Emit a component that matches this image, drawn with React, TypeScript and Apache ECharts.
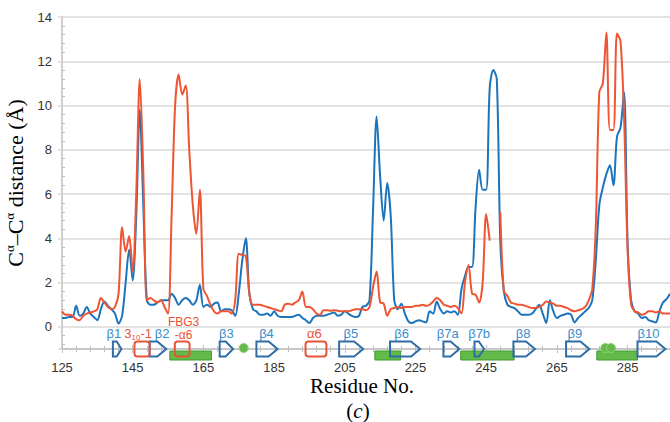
import React, { useEffect, useRef } from "react";
import * as echarts from "echarts";

const RES_START = 125;
const RES_END = 297;
const Y_MIN = -1;
const Y_MAX = 14;

// Cα–Cα distance per residue, 125..297
const blueDistance = [
  0.4, 0.4, 0.45, 0.45, 0.95, 0.5, 0.6, 0.9, 0.6, 0.45,
  0.3, 0.8, 1.15, 0.95, 0.8, 0.6, 0.15, 0.5, 2.0, 3.5,
  2.1, 5.0, 9.8, 5.5, 1.2, 1.0, 1.0, 1.1, 1.2, 1.2,
  1.2, 1.5, 1.3, 1.0, 1.2, 1.3, 1.2, 1.0, 1.2, 1.9,
  0.9, 1.0, 0.9, 1.05, 1.1, 0.7, 0.8, 0.8, 0.75, 0.5,
  1.5, 3.0, 4.0, 1.5, 0.8, 0.7, 0.55, 0.55, 0.6, 0.5,
  0.7, 0.5, 0.45, 0.45, 0.45, 0.45, 0.5, 0.55, 0.4, 0.3,
  0.17, 0.4, 0.5, 0.5, 0.5, 0.55, 0.6, 0.65, 0.5, 0.55,
  0.7, 0.6, 0.5, 0.45, 0.5, 0.9, 0.95, 1.2, 5.3, 9.5,
  6.8, 4.8, 6.5, 5.0, 1.2, 0.8, 1.05, 0.6, 0.25, 0.17,
  0.25, 0.3, 0.25, 0.2, 0.7, 0.6, 1.15, 0.8, 0.6, 0.7,
  0.65, 0.7, 0.55, 1.7, 2.3, 2.7, 2.7, 5.4, 7.1, 6.2,
  6.2, 10.8, 11.6, 11.2, 3.8, 1.6, 1.0, 0.9, 0.85, 0.7,
  0.55, 0.55, 0.55, 0.6, 0.8, 1.0, 0.6, 0.17, 1.2, 0.7,
  0.4, 0.5, 0.55, 0.6, 0.55, 0.2, 0.4, 0.55, 0.7, 0.85,
  1.2, 3.0, 5.5, 6.3, 6.9, 7.3, 6.4, 8.6, 9.0, 10.6,
  3.8, 1.2, 0.7, 0.6, 0.4, 0.45, 0.3, 0.25, 0.2, 0.7,
  1.1, 1.25, 1.5,
];

const redDistance = [
  0.7, 0.55, 0.55, 0.5, 0.35, 0.3, 0.5, 0.6, 0.65, 0.7,
  0.8, 1.3, 1.1, 0.9, 0.8, 0.9, 1.5, 4.5, 3.4, 4.1,
  2.5, 6.0, 11.2, 7.0, 1.2, 1.3, 1.2, 1.1, 1.2, 0.9,
  0.6, 5.0, 10.0, 11.4, 10.5, 10.9, 8.0, 5.5, 4.2, 6.2,
  1.7, 1.4, 1.0, 0.7, 0.6, 0.7, 0.7, 0.7, 0.6, 1.2,
  3.3, 3.25, 3.2, 1.5, 1.0, 1.0, 1.0, 0.95, 0.9, 0.85,
  0.8, 0.75, 0.7, 1.0, 1.05, 1.0, 1.1, 1.2, 1.6, 0.9,
  0.9, 0.8, 0.6, 0.55, 0.75, 0.75, 0.73, 0.75, 0.73, 0.7,
  0.7, 0.7, 0.75, 0.8, 0.8, 0.8, 0.75, 0.9, 1.8, 2.5,
  1.1, 1.05, 0.5, 0.8, 0.85, 0.9, 0.85, 0.9, 0.9, 0.9,
  0.95, 0.95, 1.0, 0.95, 1.0, 1.15, 1.3, 1.2, 1.0, 0.95,
  0.9, 0.95, 0.85, 0.6, 2.0, 2.8, 1.5, 1.45, 1.1, 2.0,
  5.1, 3.9, null, null, 5.2, 1.6, 1.4, 1.1, 1.05, 1.0,
  1.0, 0.95, 0.9, 0.85, 0.85, 0.9, 1.0, 1.15, 1.1, 1.05,
  0.95, 0.95, 0.9, 0.85, 0.75, 0.7, 0.75, 0.8, 0.9, 1.2,
  1.7, 4.5, 10.6, 11.0, 13.3, 8.9, 8.9, 13.25, 12.9, 9.5,
  3.5, 1.0, 0.7, 0.65, 0.55, 0.6, 0.7, 0.7, 0.65, 0.7,
  0.6, 0.6, 0.6,
];

const yTickValues = [0, 2, 4, 6, 8, 10, 12, 14];

// secondary-structure annotations (residue ranges)
const strandRanges = [
  [139.4, 141.8], [149.8, 154.5], [169.6, 173.4], [180, 186], [203.4, 210.2],
  [217.8, 226.3], [232.9, 237.4], [241.7, 244.4], [252.7, 258.8], [267.6, 274.2],
  [287.8, 295.7],
];
const strandLabels = ["β1", "β2", "β3", "β4", "β5", "β6", "β7a", "β7b", "β8", "β9", "β10"];
const strandLabelAt = [139.7, 153.3, 171.5, 182.85, 206.75, 221.05, 234.15, 243.0, 255.45, 270.1, 290.9];

const helixRanges = [[145.5, 149.8], [156.9, 161.1], [193.9, 199.8]];
const helixLabels = ["{n|3}{s|10}{n|-1}", "{m|FBG3}\n{m|-α6}", "α6"];
const helixLabelAt = [146.55, 159.4, 196.4];

const greenBars = [[155.5, 167.3], [213.5, 220.8], [237.8, 252.9], [276.3, 287.8]];
const greenDots = [176.4, 278.7, 280.3];

const BLUE = "#1C75BC";
const RED = "#EF5533";
const STRAND = "#2F6DA6";
const STRAND_TXT = "#3A8CCB";
const HELIX = "#E8533A";
const GREEN = "#63BA48";
const GREEN_EDGE = "#3E9C33";
const SANS = '"Liberation Sans", Arial, sans-serif';
const SERIF = '"Liberation Serif", "Times New Roman", serif';

const residues = blueDistance.map((_, i) => RES_START + i);

export default function App() {
  const ref = useRef<HTMLDivElement>(null);
  useEffect(() => {
    const chart = echarts.init(ref.current!, null, { renderer: "svg" });
    const gridBox = { left: 62, right: 0, top: 17, bottom: 73, containLabel: false, outerBoundsMode: "none" };
    const option: any = {
      animation: false,
      backgroundColor: "#ffffff",
      grid: [gridBox, { ...gridBox }],
      xAxis: [
        {
          type: "value",
          gridIndex: 0,
          min: RES_START,
          max: RES_END,
          interval: 20,
          axisLine: { show: true, onZero: false, lineStyle: { color: "#BFBFBF", width: 1.5 } },
          axisTick: { show: true, inside: false, length: 4, lineStyle: { color: "#BFBFBF", width: 1 } },
          minorTick: { show: true, splitNumber: 5, length: 3, lineStyle: { color: "#BFBFBF", width: 1 } },
          axisLabel: { show: true, showMaxLabel: false, margin: 12, color: "#333", fontSize: 13, fontFamily: SANS },
          splitLine: { show: false },
        },
        {
          type: "value",
          gridIndex: 1,
          min: RES_START,
          max: RES_END,
          interval: 20,
          axisLine: { show: false, onZero: false },
          axisTick: { show: true, inside: true, length: 4, lineStyle: { color: "#BFBFBF", width: 1 } },
          minorTick: { show: true, splitNumber: 5, length: 3, lineStyle: { color: "#BFBFBF", width: 1 } },
          axisLabel: { show: false },
          splitLine: { show: false },
        },
      ],
      yAxis: [
        {
          type: "value",
          gridIndex: 0,
          min: Y_MIN,
          max: Y_MAX,
          splitNumber: 7,
          minInterval: 2,
          maxInterval: 2,
          axisLine: { show: true, onZero: false, lineStyle: { color: "#BFBFBF", width: 1.5 } },
          axisTick: { show: true, inside: false, length: 4, lineStyle: { color: "#D9D9D9", width: 1.5 } },
          axisLabel: {
            margin: 10,
            color: "#333",
            fontSize: 13,
            fontFamily: SANS,
            formatter: (v: number) => (yTickValues.includes(v) ? String(v) : ""),
          },
          splitLine: { show: true, lineStyle: { color: "#D9D9D9", width: 1.5 } },
          name: "{c|C}{s|α}{c|–C}{s|α}{c| distance (Å)}",
          nameLocation: "middle",
          nameRotate: 90,
          nameGap: 29,
          nameTextStyle: {
            color: "#000",
            fontFamily: SERIF,
            fontSize: 22,
            rich: {
              c: { color: "#000", fontFamily: SERIF, fontSize: 22, lineHeight: 26 },
              s: { color: "#000", fontFamily: SERIF, fontSize: 13, lineHeight: 15, verticalAlign: "top" },
            },
          },
        },
        {
          type: "value",
          gridIndex: 1,
          min: Y_MIN,
          max: Y_MAX,
          splitNumber: 7,
          minInterval: 2,
          maxInterval: 2,
          axisLine: { show: false, onZero: false },
          axisTick: { show: false, inside: true },
          minorTick: { show: true, splitNumber: 5, length: 3, lineStyle: { color: "#BFBFBF", width: 1 } },
          axisLabel: { show: false },
          splitLine: { show: false },
        },
      ],
      graphic: [
        {
          type: "text",
          x: 362,
          y: 386,
          style: { text: "Residue No.", fontFamily: SERIF, fontSize: 21, fill: "#000", align: "center", verticalAlign: "middle" },
        },
        {
          type: "text",
          x: 358,
          y: 411,
          style: {
            text: "{n|(}{i|c}{n|)}",
            align: "center",
            verticalAlign: "middle",
            rich: {
              n: { fontFamily: SERIF, fontSize: 21, fill: "#000" },
              i: { fontFamily: SERIF, fontSize: 21, fontStyle: "italic", fill: "#000" },
            },
          },
        },
      ],
      series: [
        {
          type: "custom",
          name: "bars",
          xAxisIndex: 0,
          yAxisIndex: 0,
          z: 3,
          silent: true,
          clip: false,
          encode: { x: [0, 1], y: 2 },
          data: greenBars.map(([s, e]) => [s, e, Y_MIN]),
          renderItem: (params: any, api: any) => {
            const a = api.coord([api.value(0), api.value(2)]);
            const b = api.coord([api.value(1), api.value(2)]);
            return {
              type: "rect",
              shape: { x: a[0], y: a[1] + 2, width: b[0] - a[0], height: 9 },
              style: { fill: GREEN, stroke: GREEN_EDGE, lineWidth: 1 },
            };
          },
        },
        {
          type: "line",
          name: "blue",
          xAxisIndex: 0,
          yAxisIndex: 0,
          data: residues.map((r, i) => [r, blueDistance[i]]),
          showSymbol: false,
          smooth: 0.3,
          z: 4,
          lineStyle: { color: BLUE, width: 2 },
          itemStyle: { color: BLUE },
        },
        {
          type: "line",
          name: "red",
          xAxisIndex: 0,
          yAxisIndex: 0,
          data: residues.map((r, i) => [r, redDistance[i]]),
          showSymbol: false,
          connectNulls: false,
          smooth: 0.3,
          z: 5,
          lineStyle: { color: RED, width: 2 },
          itemStyle: { color: RED },
        },
        {
          type: "custom",
          name: "strands",
          xAxisIndex: 0,
          yAxisIndex: 0,
          z: 6,
          silent: true,
          clip: false,
          encode: { x: [0, 1], y: 2 },
          data: strandRanges.map(([s, e]) => [s, e, Y_MIN]),
          renderItem: (params: any, api: any) => {
            const a = api.coord([api.value(0), api.value(2)]);
            const b = api.coord([api.value(1), api.value(2)]);
            const cy = a[1];
            const h = 7.5;
            const head = Math.min(9, (b[0] - a[0]) * 0.55);
            return {
              type: "polygon",
              shape: {
                points: [
                  [a[0], cy - h],
                  [b[0] - head, cy - h],
                  [b[0], cy],
                  [b[0] - head, cy + h],
                  [a[0], cy + h],
                ],
              },
              style: { fill: "none", stroke: STRAND, lineWidth: 2 },
            };
          },
        },
        {
          type: "custom",
          name: "helices",
          xAxisIndex: 0,
          yAxisIndex: 0,
          z: 6,
          silent: true,
          clip: false,
          encode: { x: [0, 1], y: 2 },
          data: helixRanges.map(([s, e]) => [s, e, Y_MIN]),
          renderItem: (params: any, api: any) => {
            const a = api.coord([api.value(0), api.value(2)]);
            const b = api.coord([api.value(1), api.value(2)]);
            return {
              type: "rect",
              shape: { x: a[0], y: a[1] - 7.5, width: b[0] - a[0], height: 15, r: 3 },
              style: { fill: "none", stroke: HELIX, lineWidth: 2 },
            };
          },
        },
        {
          type: "custom",
          name: "dots",
          xAxisIndex: 0,
          yAxisIndex: 0,
          z: 7,
          silent: true,
          clip: false,
          encode: { x: 0, y: 1 },
          data: greenDots.map((r) => [r, Y_MIN]),
          renderItem: (params: any, api: any) => {
            const c = api.coord([api.value(0), api.value(1)]);
            return {
              type: "circle",
              shape: { cx: c[0], cy: c[1] - 1, r: 4.5 },
              style: { fill: GREEN, stroke: "#8ED07A", lineWidth: 1 },
            };
          },
        },
        {
          type: "custom",
          name: "strandLabels",
          xAxisIndex: 0,
          yAxisIndex: 0,
          z: 8,
          silent: true,
          clip: false,
          encode: { x: 0, y: 1 },
          data: strandLabelAt.map((r) => [r, Y_MIN]),
          renderItem: (params: any, api: any) => {
            const c = api.coord([api.value(0), api.value(1)]);
            return {
              type: "text",
              x: c[0],
              y: c[1] - 16,
              style: {
                text: strandLabels[params.dataIndex],
                fill: STRAND_TXT,
                fontSize: 13,
                fontFamily: SANS,
                align: "center",
                verticalAlign: "middle",
              },
            };
          },
        },
        {
          type: "custom",
          name: "helixLabels",
          xAxisIndex: 0,
          yAxisIndex: 0,
          z: 8,
          silent: true,
          clip: false,
          encode: { x: 0, y: 1 },
          data: helixLabelAt.map((r) => [r, Y_MIN]),
          renderItem: (params: any, api: any) => {
            const c = api.coord([api.value(0), api.value(1)]);
            const t = helixLabels[params.dataIndex];
            const multi = t.indexOf("\n") >= 0;
            return {
              type: "text",
              x: c[0],
              y: c[1] - (multi ? 21 : 16),
              style: {
                text: t,
                fill: HELIX,
                fontSize: 13,
                fontFamily: SANS,
                align: "center",
                verticalAlign: "middle",
                rich: {
                  n: { fill: HELIX, fontSize: 13, fontFamily: SANS, lineHeight: 16 },
                  s: { fill: HELIX, fontSize: 8, fontFamily: SANS, lineHeight: 8, verticalAlign: "bottom" },
                  m: { fill: HELIX, fontSize: 12, fontFamily: SANS, lineHeight: 13 },
                },
              },
            };
          },
        },
      ],
    };
    chart.setOption(option);
    return () => chart.dispose();
  }, []);
  return (
    <div
      ref={ref}
      style={{ position: "absolute", left: 0, top: 0, width: 670, height: 422, background: "#fff" }}
    />
  );
}
